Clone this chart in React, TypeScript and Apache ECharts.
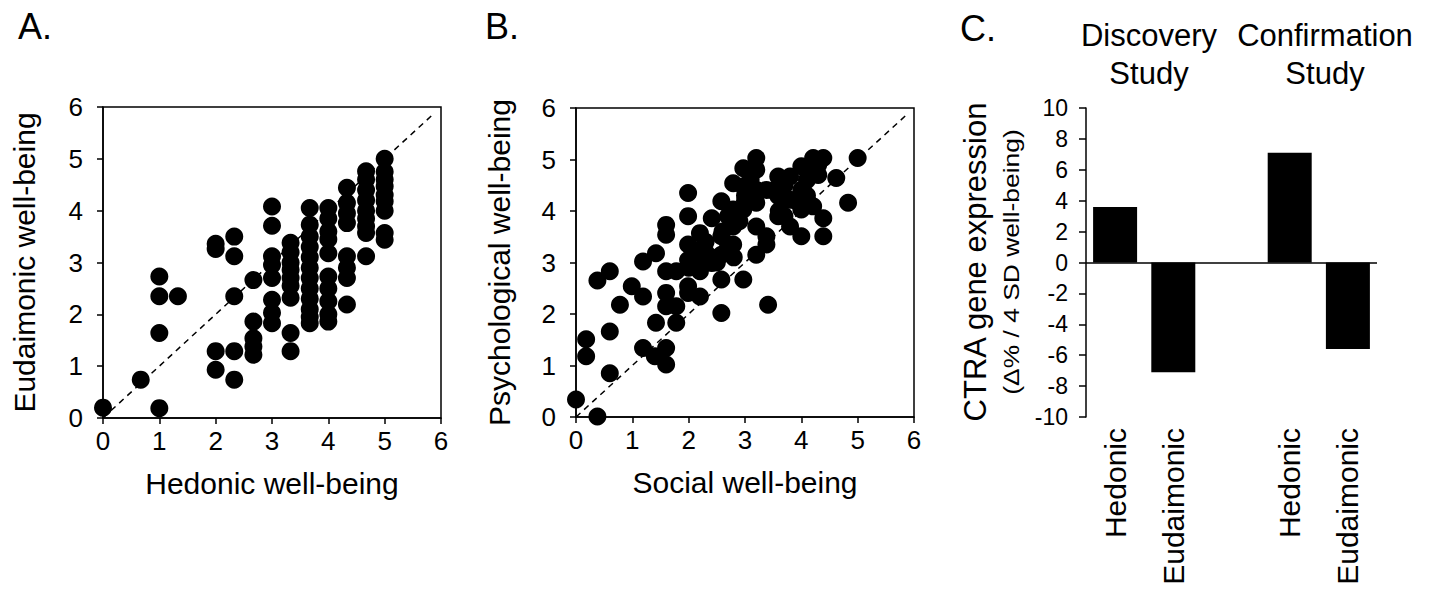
import React, { useEffect, useRef } from "react";
import * as echarts from "echarts";

const FONT = "'Liberation Sans', Arial, sans-serif";

// Panel A: Hedonic (x) vs Eudaimonic (y)
const aHedonic = [
  0,
  0.67,
  1, 1, 1, 1,
  1.33,
  2, 2, 2, 2,
  2.33, 2.33, 2.33, 2.33, 2.33,
  2.67, 2.67, 2.67, 2.67, 2.67,
  3, 3, 3, 3, 3, 3, 3, 3,
  3.33, 3.33, 3.33, 3.33, 3.33, 3.33, 3.33, 3.33, 3.33,
  3.67, 3.67, 3.67, 3.67, 3.67, 3.67, 3.67, 3.67, 3.67, 3.67, 3.67, 3.67,
  4, 4, 4, 4, 4, 4, 4, 4, 4, 4,
  4.33, 4.33, 4.33, 4.33, 4.33, 4.33, 4.33, 4.33,
  4.67, 4.67, 4.67, 4.67, 4.67, 4.67, 4.67, 4.67, 4.67,
  5, 5, 5, 5, 5, 5, 5, 5, 5,
];
const aEudaimonic = [
  0.2,
  0.74,
  2.73, 2.35, 1.64, 0.19,
  2.35,
  3.36, 3.26, 1.29, 0.93,
  3.5, 3.12, 2.35, 1.29, 0.74,
  2.66, 1.86, 1.54, 1.38, 1.22,
  4.08, 3.71, 3.12, 2.95, 2.7, 2.28, 2.03, 1.83,
  3.38, 3.2, 3.0, 2.86, 2.7, 2.55, 2.32, 1.64, 1.29,
  4.05, 3.73, 3.5, 3.3, 3.1, 2.9, 2.7, 2.5, 2.3, 2.1, 1.95, 1.83,
  4.05, 3.85, 3.6, 3.45, 3.18, 2.73, 2.5, 2.25, 2.0, 1.86,
  4.44, 4.15, 3.95, 3.76, 3.12, 2.9, 2.7, 2.19,
  4.76, 4.6, 4.4, 4.2, 4.0, 3.85, 3.7, 3.57, 3.12,
  5.0, 4.75, 4.6, 4.47, 4.3, 4.18, 4.0, 3.57, 3.44,
];

// Panel B: Social (x) vs Psychological (y)
const bSocial = [
  0, 0.38, 0.18, 0.18, 0.6, 0.6, 0.38, 0.6, 0.78, 0.99,
  1.19, 1.19, 1.42, 1.19, 1.4, 1.6, 1.6, 1.42, 1.78, 1.6,
  1.6, 1.78, 1.6, 1.78, 1.6, 1.6, 1.99, 1.99, 1.99, 1.99,
  1.99, 2.2, 1.99, 2.2, 2.2, 2.2, 2.41, 2.41, 2.58, 2.58,
  2.58, 2.58, 2.58, 2.79, 2.79, 2.79, 2.79, 2.97, 2.97, 2.97,
  2.97, 3.2, 3.2, 3.2, 3.2, 3.2, 3.2, 3.38, 3.38, 3.38,
  3.41, 3.59, 3.59, 3.59, 3.8, 3.8, 3.8, 4.0, 4.0, 4.0,
  4.0, 4.21, 4.21, 4.21, 4.39, 4.39, 4.39, 4.62, 4.83, 5.0,
  2.1, 2.3, 2.4, 2.7, 2.7, 3.0, 3.6, 3.7, 3.9, 4.1, 4.3, 2.0,
  2.3, 2.5, 2.6, 2.9, 3.0, 3.1, 3.5, 3.7, 4.1, 4.3, 2.1, 2.8,
];
const bPsychological = [
  0.34, 0.01, 1.51, 1.18, 0.85, 1.66, 2.65, 2.83, 2.18, 2.54,
  2.34, 3.02, 3.18, 1.34, 1.18, 1.34, 1.02, 1.83, 1.83, 2.41,
  2.15, 2.15, 2.83, 2.83, 3.73, 3.54, 4.35, 3.9, 3.35, 3.05,
  2.54, 2.34, 2.41, 3.57, 3.25, 2.83, 2.99, 3.86, 4.19, 3.51,
  3.15, 2.67, 2.02, 4.54, 4.03, 3.7, 3.35, 4.83, 4.48, 4.03,
  2.67, 5.03, 4.8, 4.41, 4.16, 3.7, 3.15, 4.41, 3.51, 3.35,
  2.18, 4.67, 3.9, 4.29, 4.67, 4.22, 3.7, 4.87, 4.41, 4.03,
  3.51, 5.03, 4.77, 4.09, 5.03, 3.86, 3.51, 4.64, 4.16, 5.03,
  3.0, 3.2, 3.1, 3.9, 3.3, 4.2, 4.0, 3.9, 4.2, 4.3, 4.7, 2.9,
  3.4, 3.0, 3.6, 3.8, 4.3, 4.6, 4.4, 4.5, 4.6, 4.9, 3.2, 3.1,
];

// Panel C
const cCategories = ["Hedonic", "Eudaimonic", "", "Hedonic", "Eudaimonic"];
const cValues = [3.6, -7.1, null, 7.1, -5.6];
const studyTitles = [["Discovery", "Study"], ["Confirmation", "Study"]];

const scatterTicks = { min: 0, max: 6, interval: 1 };
const cTicks = { min: -10, max: 10, interval: 2 };
const diagonal = [[0, 0], [5.85, 5.85]];

function pairs(xs: number[], ys: number[]) {
  return xs.map((x, i) => [x, ys[i]]);
}

export default function App() {
  const ref = useRef<HTMLDivElement>(null);
  useEffect(() => {
    if (!ref.current) return;
    const chart = echarts.init(ref.current, null, { renderer: "svg" });
    const black = "#000";
    const axisCommon = (name: string, nameGap: number, isY: boolean) => ({
      type: "value",
      min: scatterTicks.min,
      max: scatterTicks.max,
      interval: scatterTicks.interval,
      name,
      nameLocation: "middle",
      nameGap,
      nameTextStyle: { fontSize: 30, color: black, fontFamily: FONT },
      axisLine: { show: true, onZero: false, lineStyle: { color: black, width: 1.5 } },
      axisTick: { show: true, length: 6, lineStyle: { color: black, width: 1.5 } },
      axisLabel: { fontSize: 26, color: black, fontFamily: FONT, margin: isY ? 20 : 10 },
      splitLine: { show: false },
    });
    const gridBox = { show: true, borderColor: black, borderWidth: 1.5, backgroundColor: "transparent" };
    const option: any = {
      animation: false,
      backgroundColor: "#fff",
      textStyle: { fontFamily: FONT },
      grid: [
        { left: 103, top: 107, width: 338, height: 311, ...gridBox },
        { left: 576, top: 108, width: 338, height: 309, ...gridBox },
        { left: 1086, top: 108, width: 291, height: 309, show: false },
      ],
      xAxis: [
        { gridIndex: 0, ...axisCommon("Hedonic well-being", 50, false) },
        { gridIndex: 1, ...axisCommon("Social well-being", 50, false) },
        {
          gridIndex: 2,
          type: "category",
          data: cCategories,
          axisLine: { show: false, onZero: false },
          axisTick: { show: false },
          axisLabel: { rotate: 90, fontSize: 30, color: black, fontFamily: FONT, margin: 11, interval: 0 },
        },
      ],
      yAxis: [
        { gridIndex: 0, ...axisCommon("Eudaimonic well-being", 64, true) },
        { gridIndex: 1, ...axisCommon("Psychological well-being", 62, true) },
        {
          gridIndex: 2,
          type: "value",
          min: cTicks.min,
          max: cTicks.max,
          interval: cTicks.interval,
          axisLine: { show: true, lineStyle: { color: black, width: 1.5 } },
          axisTick: { show: true, length: 7, lineStyle: { color: black, width: 1.5 } },
          axisLabel: { fontSize: 23, color: black, fontFamily: FONT, margin: 18 },
          splitLine: { show: false },
        },
      ],
      series: [
        {
          type: "line", xAxisIndex: 0, yAxisIndex: 0, data: diagonal, symbol: "none", z: 1,
          lineStyle: { color: black, width: 1.5, type: [6, 5] },
        },
        {
          type: "line", xAxisIndex: 1, yAxisIndex: 1, data: diagonal, symbol: "none", z: 1,
          lineStyle: { color: black, width: 1.5, type: [6, 5] },
        },
        {
          type: "scatter", xAxisIndex: 0, yAxisIndex: 0, data: pairs(aHedonic, aEudaimonic),
          symbol: "circle", symbolSize: 18, itemStyle: { color: black, opacity: 1 }, z: 3,
        },
        {
          type: "scatter", xAxisIndex: 1, yAxisIndex: 1, data: pairs(bSocial, bPsychological),
          symbol: "circle", symbolSize: 18, itemStyle: { color: black, opacity: 1 }, z: 3,
        },
        {
          type: "bar", xAxisIndex: 2, yAxisIndex: 2, data: cValues, barWidth: 44,
          itemStyle: { color: black },
          markLine: {
            silent: true, symbol: ["none", "none"], label: { show: false },
            lineStyle: { color: black, width: 1.5, type: "solid" },
            data: [{ yAxis: 0 }],
          },
        },
      ],
      graphic: [
        { type: "text", left: 18, top: 8, style: { text: "A.", fontSize: 36, fill: black, fontFamily: FONT } },
        { type: "text", left: 485, top: 8, style: { text: "B.", fontSize: 36, fill: black, fontFamily: FONT } },
        { type: "text", left: 960, top: 10, style: { text: "C.", fontSize: 36, fill: black, fontFamily: FONT } },
        ...studyTitles.flatMap((lines, i) =>
          lines.map((t, j) => ({
            type: "text",
            x: i === 0 ? 1149 : 1325,
            y: j === 0 ? 35 : 73,
            style: { text: t, fontSize: 31, fill: black, fontFamily: FONT, align: "center", verticalAlign: "middle" },
          }))
        ),
        {
          type: "text", x: 975, y: 262, rotation: Math.PI / 2,
          style: { text: "CTRA gene expression", fontSize: 31, fill: black, fontFamily: FONT, align: "center", verticalAlign: "middle" },
        },
        {
          type: "text", x: 1011, y: 262, rotation: Math.PI / 2, scaleX: 1.2,
          style: { text: "(Δ% / 4 SD well-being)", fontSize: 22, fill: black, fontFamily: FONT, align: "center", verticalAlign: "middle" },
        },
      ],
    };
    chart.setOption(option);
    return () => chart.dispose();
  }, []);
  return (
    <div
      ref={ref}
      style={{ position: "fixed", left: 0, top: 0, width: 1434, height: 594, background: "#fff" }}
    />
  );
}
